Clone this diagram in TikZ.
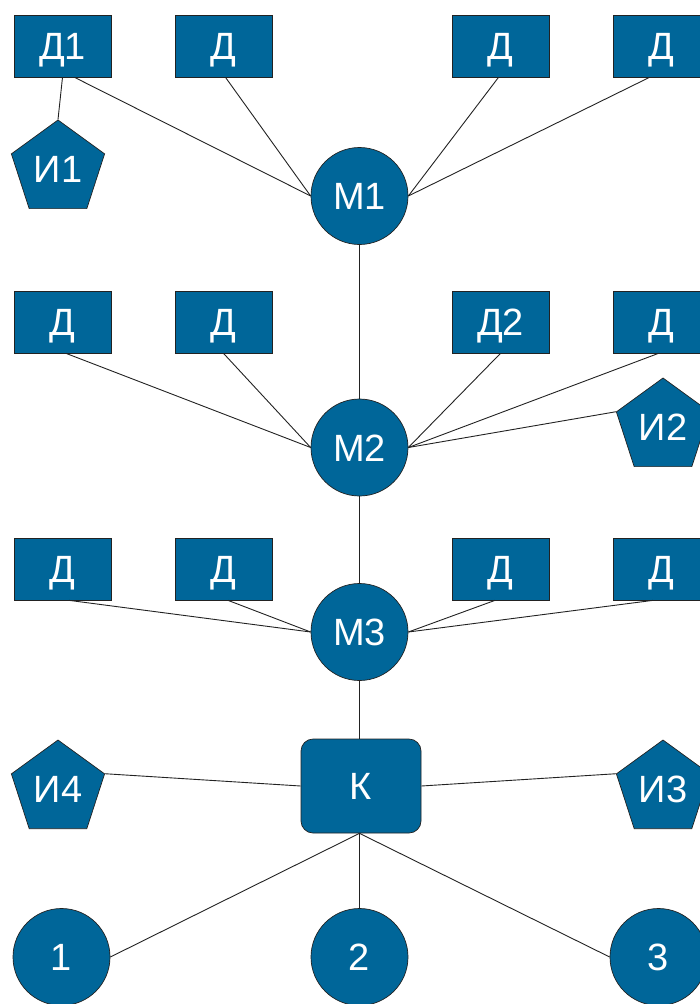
\documentclass[tikz,border=0pt]{standalone}
\usepackage{fontspec}
\setmainfont{Liberation Sans}
\usetikzlibrary{shapes.geometric,calc}
\definecolor{nodeblue}{HTML}{006699}
\definecolor{edgegray}{HTML}{222222}
\begin{document}
\begin{tikzpicture}[x=1pt,y=-1pt,
  base/.style={draw=edgegray,line width=0.7pt,fill=nodeblue,text=white,inner sep=0pt,
    font=\fontsize{38}{38}\selectfont,text height=27pt,text depth=0pt},
  box/.style={base,rectangle,minimum width=97pt,minimum height=62pt},
  hub/.style={base,circle,minimum size=97pt},
  pent/.style={base,regular polygon,regular polygon sides=5,minimum size=98pt},
  ctrl/.style={base,rectangle,rounded corners=12pt,minimum width=120pt,minimum height=94pt},
  link/.style={draw=edgegray,line width=0.9pt}]
\useasboundingbox (0,0) rectangle (700,1004);

% first tier
\node[box] (d11) at (62.5,46) {Д1};
\node[box] (d12) at (223.5,46) {Д};
\node[box] (d13) at (500.5,46) {Д};
\node[box] (d14) at (661.5,46) {Д};
\node[pent] (i1) at (58,169) {И1};
\node[hub] (m1) at (359.5,196) {М1};

% second tier
\node[box] (d21) at (62.5,322) {Д};
\node[box] (d22) at (223.5,322) {Д};
\node[box] (d23) at (500.5,322) {Д2};
\node[box] (d24) at (661.5,322) {Д};
\node[pent] (i2) at (663,427) {И2};
\node[hub] (m2) at (359.5,447.5) {М2};

% third tier
\node[box] (d31) at (62.5,569) {Д};
\node[box] (d32) at (223.5,569) {Д};
\node[box] (d33) at (500.5,569) {Д};
\node[box] (d34) at (661.5,569) {Д};
\node[hub] (m3) at (359.5,632) {М3};

% controller and its neighbours
\node[ctrl] (k) at (361,786) {К};
\node[pent] (i4) at (58,789) {И4};
\node[pent] (i3) at (663,789) {И3};
\node[hub] (c1) at (61.5,957) {1};
\node[hub] (c2) at (359.5,957) {2};
\node[hub] (c3) at (658.5,957) {3};

% links
\draw[link] (d11.south) -- (i1.corner 1);
\draw[link] ($(d11.south)+(12,0)$) -- (m1.west);
\draw[link] ($(d12.south)+(2,0)$) -- (m1.west);
\draw[link] ($(d13.south)+(-2,0)$) -- (m1.east);
\draw[link] ($(d14.south)+(-12,0)$) -- (m1.east);
\draw[link] (m1.south) -- (m2.north);

\draw[link] ($(d21.south)+(3.5,0)$) -- (m2.west);
\draw[link] (d22.south) -- (m2.west);
\draw[link] (d23.south) -- (m2.east);
\draw[link] ($(d24.south)+(-3,0)$) -- (m2.east);
\draw[link] (i2.corner 2) -- (m2.east);
\draw[link] (m2.south) -- (m3.north);

\draw[link] ($(d31.south)+(6.5,0)$) -- (m3.west);
\draw[link] ($(d32.south)+(4.5,0)$) -- (m3.west);
\draw[link] ($(d33.south)+(-5.5,0)$) -- (m3.east);
\draw[link] ($(d34.south)+(-8.5,0)$) -- (m3.east);
\draw[link] (m3.south) -- (m3.south |- k.north);

\draw[link] (i4.corner 5) -- (k.west);
\draw[link] (k.east) -- (i3.corner 2);
\draw[link] (c2.north |- k.south) -- (c1.east);
\draw[link] (c2.north |- k.south) -- (c2.north);
\draw[link] (c2.north |- k.south) -- (c3.west);
\end{tikzpicture}
\end{document}
